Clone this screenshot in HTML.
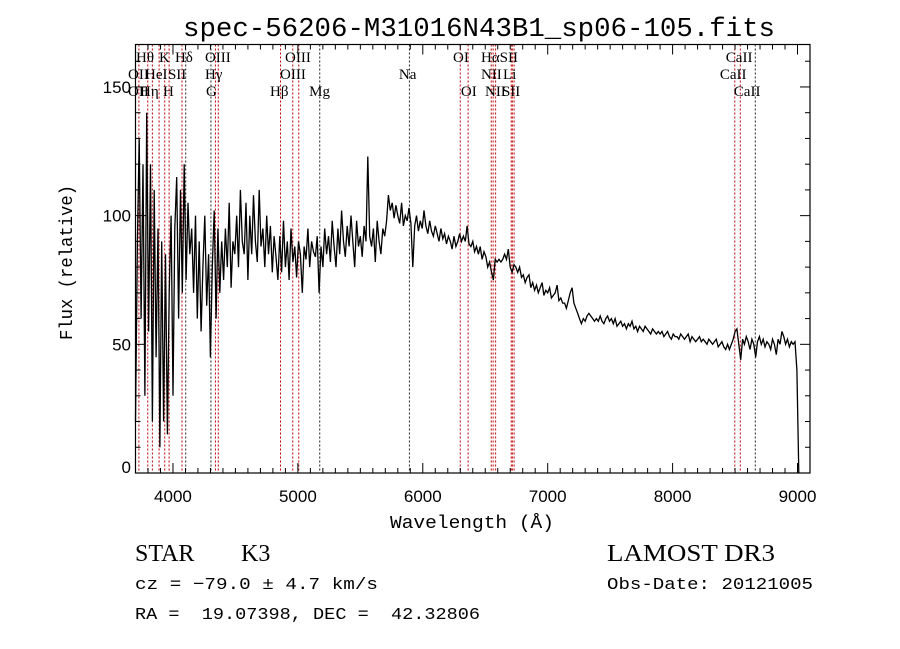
<!DOCTYPE html>
<html><head><meta charset="utf-8"><style>
body{margin:0;background:#fff;}
svg{display:block;}
</style></head><body>
<svg id="chart" width="900" height="649" xmlns="http://www.w3.org/2000/svg" font-family="Liberation Serif, serif">
<rect width="900" height="649" fill="#fff"/>
<text x="183" y="36" textLength="592" lengthAdjust="spacingAndGlyphs" font-family="Liberation Mono, monospace" font-size="27">spec-56206-M31016N43B1_sp06-105.fits</text>
<text x="390" y="528" textLength="164" lengthAdjust="spacingAndGlyphs" font-family="Liberation Mono, monospace" font-size="18">Wavelength (Å)</text>
<text transform="translate(72,340) rotate(-90)" textLength="155" lengthAdjust="spacingAndGlyphs" font-family="Liberation Mono, monospace" font-size="18">Flux (relative)</text>
<g id="lines"></g>
<g id="labels" font-size="15"></g>
<path id="spec" fill="none" stroke="#000" stroke-width="1.3"/>
<g id="axes"></g>
<text x="135" y="561" font-size="24">STAR</text>
<text x="241" y="561" font-size="24">K3</text>
<text x="607" y="561" textLength="168" lengthAdjust="spacingAndGlyphs" font-size="24">LAMOST DR3</text>
<text x="135" y="589" textLength="243" lengthAdjust="spacingAndGlyphs" font-family="Liberation Mono, monospace" font-size="17">cz = −79.0 ± 4.7 km/s</text>
<text x="607" y="589" textLength="206" lengthAdjust="spacingAndGlyphs" font-family="Liberation Mono, monospace" font-size="17">Obs-Date: 20121005</text>
<text x="135" y="619" textLength="345" lengthAdjust="spacingAndGlyphs" font-family="Liberation Mono, monospace" font-size="17" xml:space="preserve">RA =  19.07398, DEC =  42.32806</text>
</svg>
<script>
const wlStart = 3700;
const wlStep = 15;
const flux = [20,90,130,60,120,30,140,55,120,20,110,45,95,10,90,20,85,15,70,100,30,95,115,60,110,70,120,75,105,85,95,70,100,60,90,55,80,100,65,85,45,80,102,60,95,70,90,75,95,80,105,72,90,85,100,80,110,90,85,105,75,100,85,108,90,82,110,88,95,80,100,85,96,78,92,84,75,92,78,98,80,90,75,95,82,88,76,90,85,70,88,83,95,80,90,86,84,92,70,88,80,95,85,92,82,98,88,80,95,85,102,90,84,96,88,100,90,80,98,88,92,84,96,90,123,92,88,95,82,98,90,85,95,92,98,108,102,105,99,104,100,97,105,96,100,98,103,97,80,96,100,94,98,95,102,96,93,98,94,92,96,93,90,95,91,93,89,92,90,87,92,88,90,93,90,92,90,96,89,88,90,86,88,85,88,83,86,84,80,82,78,75,83,82,83,82,83,85,83,87,80,78,81,80,78,80,76,77,74,76,77,72,74,71,73,70,72,74,69,71,70,72,68,69,70,73,67,68,66,66,64,67,70,72,66,64,62,60,58,60,59,61,62,61,60,59,60,59,61,59,58,60,61,59,60,58,60,57,58,59,57,58,56,58,57,59,56,57,55,57,56,55,57,56,55,54,56,55,54,55,54,55,53,54,55,53,52,54,53,53,52,54,53,52,53,54,51,53,52,51,52,53,51,52,51,50,52,51,50,51,52,49,50,51,49,48,50,48,50,52,55,56,50,44,52,50,53,51,48,52,50,45,51,53,50,52,49,51,50,48,52,50,46,52,50,55,53,50,52,49,51,50,51,40,0];
const lineWl = [3727,3798,3835,3889,3934,3969,4072,4102,4304,4340,4363,4861,4959,5007,5175,5893,6300,6363,6548,6563,6583,6708,6717,6731,8498,8542,8662];
const lineColor = ['r','r','r','r','r','r','r','k','k','r','r','r','r','r','k','k','r','r','r','r','r','r','r','r','r','r','k'];
const labelText = ['Hθ','K','Hδ','OIII','OIII','OI','HαSII','CaII','OII','HeI','SII','Hγ','OIII','Na','NII','Li','CaII','OII','Hη','H','G','Hβ','Mg','OI','NII','SII','CaII'];
const labelWl = [3704,3888,4016,4256,4897,6242,6466,8426,3640,3776,3960,4256,4857,5809,6466,6642,8378,3640,3736,3920,4264,4777,5090,6305,6498,6634,8490];
const labelRow = [0,0,0,0,0,0,0,0,1,1,1,1,1,1,1,1,1,2,2,2,2,2,2,2,2,2,2];
const xTicks = [4000,5000,6000,7000,8000,9000];
const yTicks = [0,50,100,150];

const X0=135.5,X1=810,Y0=44.5,Y1=473;
const xMin=3700,xMax=9100,yMin=0,yMax=166.5;
const xs=w=>X0+(w-xMin)/(xMax-xMin)*(X1-X0);
const ys=v=>Y1-(v-yMin)/(yMax-yMin)*(Y1-Y0);
const NS='http://www.w3.org/2000/svg';
function mk(tag,attrs,parent){const e=document.createElementNS(NS,tag);for(const k in attrs)e.setAttribute(k,attrs[k]);parent.appendChild(e);return e;}

let d='';
flux.forEach((f,i)=>{const x=xs(wlStart+i*wlStep),y=ys(f);d+=(i?'L':'M')+x.toFixed(1)+' '+y.toFixed(1);});
document.getElementById('spec').setAttribute('d',d);

const lg=document.getElementById('lines');
lineWl.forEach((w,i)=>{
  const l=mk('line',{x1:xs(w),x2:xs(w),y1:Y0,y2:Y1,stroke:lineColor[i]==='r'?'#c00000':'#222','stroke-width':1,'stroke-dasharray':'2,2'},lg);
  
  
});
const lb=document.getElementById('labels');
labelText.forEach((t,i)=>{
  const e=mk('text',{x:xs(labelWl[i]),y:62+labelRow[i]*17},lb);
  e.textContent=t;
  
  
});

const ax=document.getElementById('axes');
const fr=mk('rect',{x:X0,y:Y0,width:X1-X0,height:Y1-Y0,fill:'none',stroke:'#000','stroke-width':1.2},ax);


for(let w=3700;w<=9100;w+=100){
  const major=w%1000===0,len=major?10:5,x=xs(w);
  mk('line',{x1:x,x2:x,y1:Y1,y2:Y1-len,stroke:'#000'},ax);
  mk('line',{x1:x,x2:x,y1:Y0,y2:Y0+len,stroke:'#000'},ax);
}
xTicks.forEach(t=>{
  const e=mk('text',{x:xs(t),y:502,'text-anchor':'middle','font-family':'Liberation Sans, sans-serif','font-size':17},ax);
  e.textContent=t;
  
  
});
for(let v=0;v<=160;v+=10){
  const major=v%50===0,len=major?10:5,y=ys(v);
  mk('line',{x1:X0,x2:X0+len,y1:y,y2:y,stroke:'#000'},ax);
  mk('line',{x1:X1,x2:X1-len,y1:y,y2:y,stroke:'#000'},ax);
}
yTicks.forEach(t=>{
  const e=mk('text',{x:131,y:ys(t)+(t===0?0:6),'text-anchor':'end','font-family':'Liberation Sans, sans-serif','font-size':17},ax);
  e.textContent=t;
  
  
});
</script>
</body></html>
